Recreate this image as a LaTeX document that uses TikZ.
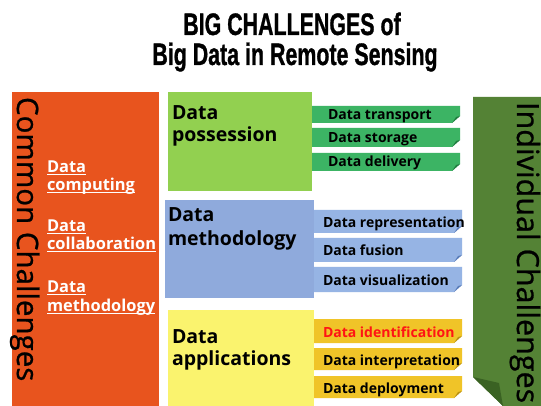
\documentclass[tikz,border=0pt]{standalone}
\usepackage{fontspec}
\setmainfont{Open Sans}
\newfontface\titlefont{Liberation Sans Bold}[FakeBold=1.2]
\newfontface\sidefont{Open Sans}[FakeBold=0.8]
\definecolor{orangebox}{RGB}{232,84,30}
\definecolor{greenbox}{RGB}{146,208,80}
\definecolor{greentab}{RGB}{60,180,100}
\definecolor{greendark}{RGB}{35,125,65}
\definecolor{bluebox}{RGB}{143,170,220}
\definecolor{bluetab}{RGB}{150,180,228}
\definecolor{bluedark}{RGB}{90,125,185}
\definecolor{yellowbox}{RGB}{250,243,110}
\definecolor{yellowtab}{RGB}{240,196,40}
\definecolor{yellowdark}{RGB}{185,145,20}
\definecolor{olivebox}{RGB}{84,130,53}
\definecolor{olivedark}{RGB}{58,98,35}
\definecolor{idred}{RGB}{255,20,20}
\newcommand\mytab[6]{%
  \fill[#5] (#1,#3) -- (#2,#3) -- (#2,#4-7) -- (#2-8,#4) -- (#1,#4) -- cycle;
  \fill[#6] (#2,#4-7) -- (#2-8,#4) -- (#2-4,#4-6) -- cycle;}
\newcommand\ulw[1]{\setbox0\hbox{#1}\rlap{\rule[-2.5pt]{\wd0}{1pt}}\box0}
\begin{document}
\begin{tikzpicture}[x=1pt,y=-1pt,
  txt/.style={inner sep=0pt, outer sep=0pt, anchor=base west},
  titletxt/.style={inner sep=0pt, anchor=base, font=\titlefont\fontsize{31}{31}\selectfont},
  sidetxt/.style={txt, rotate=-90},
  commontxt/.style={txt, text=white, font=\bfseries\fontsize{16.4}{16.4}\selectfont},
  boxtxt/.style={txt, font=\bfseries\fontsize{19.5}{19.5}\selectfont},
  tabtxt/.style={txt, font=\bfseries\fontsize{14}{14}\selectfont}]
\useasboundingbox (0,0) rectangle (541,406);
\fill[white] (0,0) rectangle (541,406);
% title
\node[titletxt] (t1) at (292,35) {\scalebox{0.69}[1]{BIG CHALLENGES of}};
\node[titletxt] (t2) at (295,65) {\scalebox{0.69}[1]{Big Data in Remote Sensing}};
% left orange
\fill[orangebox] (12,92) rectangle (159,406);
\node[sidetxt, font=\sidefont\fontsize{29.5}{29.5}\selectfont] (cc) at (17,97) {Common Challenges};
\node[commontxt] (c1a) at (47,173) {\ulw{Data}};
\node[commontxt] (c1b) at (47,191) {\ulw{computing}};
\node[commontxt] (c2a) at (47,232) {\ulw{Data}};
\node[commontxt] (c2b) at (47,250) {\ulw{collaboration}};
\node[commontxt] (c3a) at (47,292) {\ulw{Data}};
\node[commontxt] (c3b) at (47,311) {\ulw{methodology}};
% right olive
\fill[olivebox] (473,97) -- (541,97) -- (541,406) -- (503,406) -- (473,377) -- cycle;
\fill[olivedark] (473,377) -- (503,406) -- (499,383) -- cycle;
\node[sidetxt, font=\sidefont\fontsize{30.5}{30.5}\selectfont] (ic) at (517,102) {Individual Challenges};
% data possession
\fill[greenbox] (168,92) rectangle (312,191);
\node[boxtxt] (p1) at (172,120) {Data};
\node[boxtxt] (p2) at (172,142) {possession};
\mytab{312}{460}{106}{123}{greentab}{greendark}
\mytab{312}{460}{128}{147}{greentab}{greendark}
\mytab{312}{460}{153}{171}{greentab}{greendark}
\node[tabtxt] (g1) at (328,120) {Data transport};
\node[tabtxt] (g2) at (328,143) {Data storage};
\node[tabtxt] (g3) at (328,167) {Data delivery};
% data methodology
\fill[bluebox] (165,200) rectangle (314,298);
\node[boxtxt] (m1) at (168,222) {Data};
\node[boxtxt] (m2) at (168,246) {methodology};
\mytab{314}{462}{210}{233}{bluetab}{bluedark}
\mytab{314}{462}{238}{262}{bluetab}{bluedark}
\mytab{314}{462}{267}{292}{bluetab}{bluedark}
\node[tabtxt] (b1) at (323,228) {Data representation};
\node[tabtxt] (b2) at (323,256) {Data fusion};
\node[tabtxt] (b3) at (323,285) {Data visualization};
% data applications
\fill[yellowbox] (168,310) rectangle (314,406);
\node[boxtxt] (a1) at (172,343) {Data};
\node[boxtxt] (a2) at (172,365) {applications};
\mytab{314}{462}{319}{343}{yellowtab}{yellowdark}
\mytab{314}{462}{348}{370}{yellowtab}{yellowdark}
\mytab{314}{462}{376}{398}{yellowtab}{yellowdark}
\node[tabtxt, text=idred] (y1) at (323,337) {Data identification};
\node[tabtxt] (y2) at (323,365) {Data interpretation};
\node[tabtxt] (y3) at (323,393) {Data deployment};
\end{tikzpicture}
\end{document}
